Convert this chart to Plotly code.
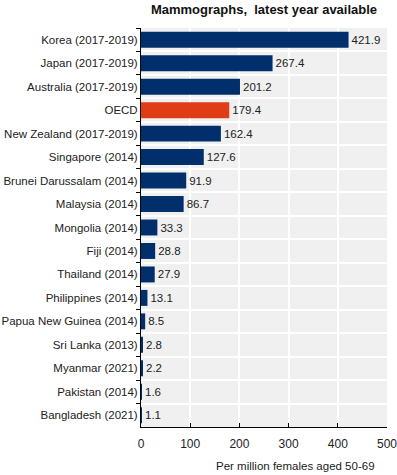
import plotly.graph_objects as go

categories = ["Korea (2017-2019)", "Japan (2017-2019)", "Australia (2017-2019)", "OECD",
              "New Zealand (2017-2019)", "Singapore (2014)", "Brunei Darussalam (2014)",
              "Malaysia (2014)", "Mongolia (2014)", "Fiji (2014)", "Thailand (2014)",
              "Philippines (2014)", "Papua New Guinea (2014)", "Sri Lanka (2013)",
              "Myanmar (2021)", "Pakistan (2014)", "Bangladesh (2021)"]
values = [421.9, 267.4, 201.2, 179.4, 162.4, 127.6, 91.9, 86.7, 33.3, 28.8, 27.9,
          13.1, 8.5, 2.8, 2.2, 1.6, 1.1]
x_ticks = [0, 100, 200, 300, 400, 500]
x_title = "Per million females aged 50-69"

NAVY = "#002F6C"
RED = "#E03C16"
colors = [RED if c == "OECD" else NAVY for c in categories]

fig = go.Figure()
fig.add_trace(go.Bar(
    y=categories, x=values, orientation="h",
    marker=dict(color=colors, line=dict(width=0)),
    width=0.68,
    text=[f"{v:.1f}" for v in values],
    textposition="outside",
    textfont=dict(size=11.5, color="#222222", family="Liberation Sans, Arial"),
    cliponaxis=False,
))

fig.update_layout(
    width=397, height=475,
    margin=dict(l=141, r=10, t=28, b=48, autoexpand=False),
    paper_bgcolor="white",
    plot_bgcolor="#F0F0F0",
    font=dict(family="Liberation Sans, Arial", size=11.5, color="#222222"),
    title=dict(text="<b>Mammographs,  latest year available</b>",
               x=0.5, xanchor="center", xref="paper", y=0.99, yref="container", yanchor="top",
               font=dict(size=13, color="#111111")),
    showlegend=False,
)
fig.add_annotation(
    text=x_title, xref="paper", yref="paper", x=0.96, y=0,
    xanchor="right", yanchor="middle", yshift=-39, showarrow=False,
    font=dict(size=11.5, color="#222222"),
)
fig.update_xaxes(
    range=[0, 500], tickvals=x_ticks, automargin=False,
    showgrid=True, gridcolor="white", gridwidth=1.5,
    showline=True, linecolor="black", linewidth=1,
    ticks="inside", ticklen=4, tickcolor="black",
    ticklabelstandoff=6, tickfont=dict(size=12), ticklabeloverflow="allow",
    zeroline=False,
)
fig.update_yaxes(
    autorange="reversed", automargin=False,
    showgrid=True, gridcolor="white", gridwidth=1.5,
    tickson="boundaries",
    showline=True, linecolor="black", linewidth=1,
    ticks="outside", ticklen=4, tickcolor="black",
)

fig.write_html("out.html", config={"displayModeBar": False},
               post_script="document.body.style.margin='0';")
